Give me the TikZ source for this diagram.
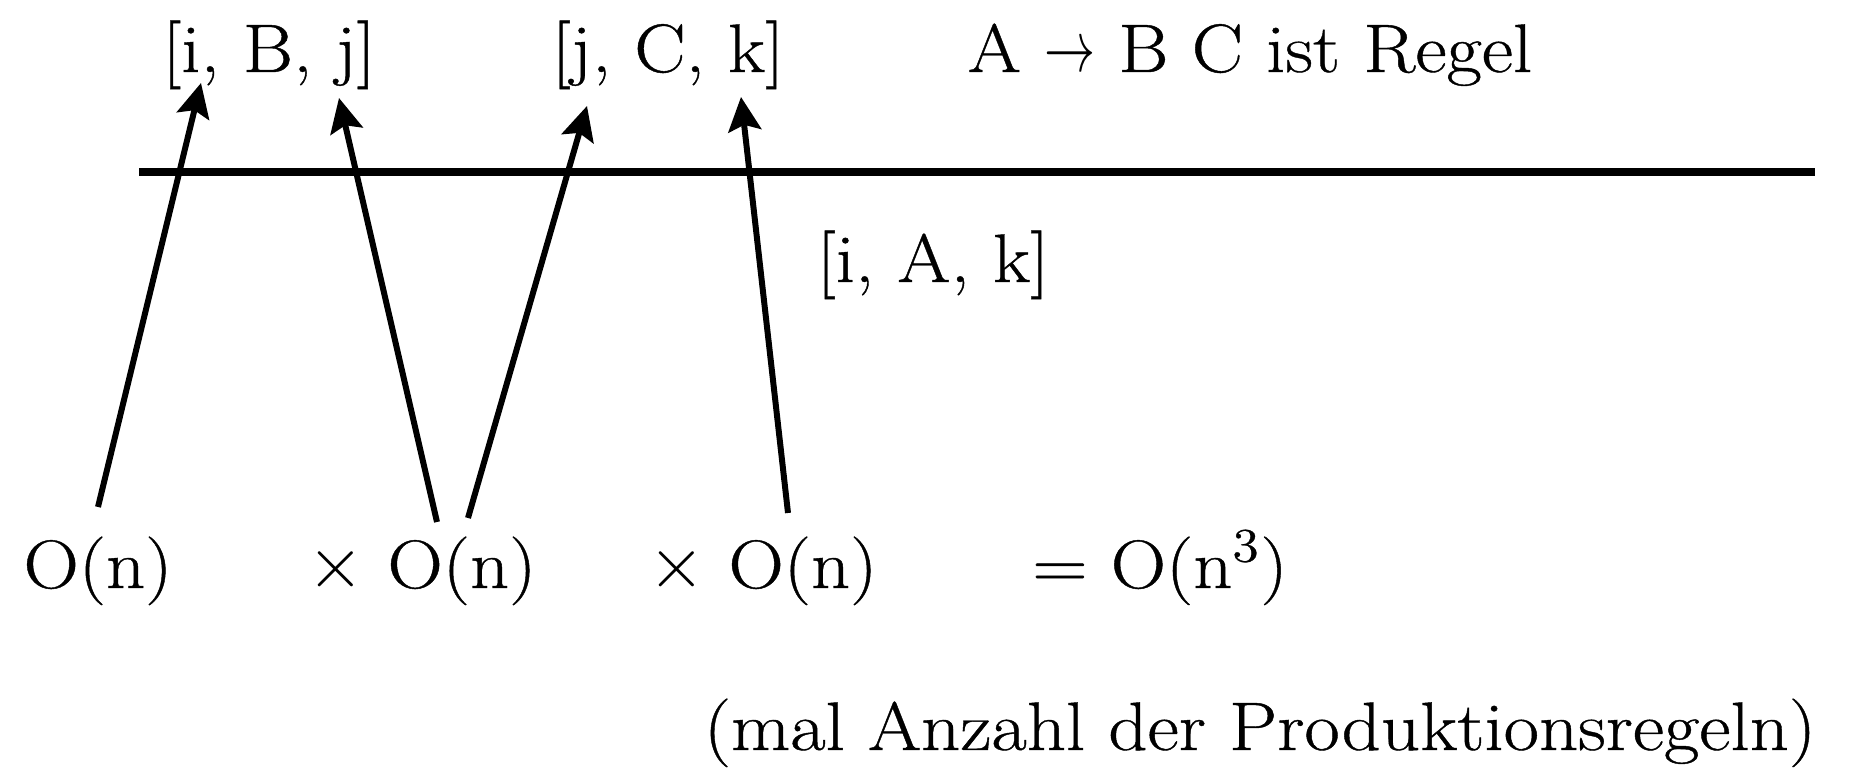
\documentclass[tikz,border=0pt]{standalone}
\usepackage{fontspec}
\setmainfont{Latin Modern Roman}[FakeStretch=1.12, FakeBold=0.6]
\usepackage{tikz}
\usetikzlibrary{arrows.meta}

\begin{document}
\begin{tikzpicture}[
    term/.style={inner sep=0pt, anchor=base, font=\fontsize{19.5}{23}\selectfont},
    arr/.style={-{Stealth[length=3.4mm, width=3.3mm, inset=0.6mm]}, line width=1.7pt},
    rule/.style={line width=2.2pt},
]
\useasboundingbox (0,0) rectangle (18.5,7.69);

% --- Items above the line ---
\node[term] (ibj) at (2.69,6.97) {[i, B, j]};
\node[term] (jck) at (6.68,6.97) {[j, C, k]};
\node[term] (regel) at (12.50,6.97) {A \scalebox{0.7}[1]{$\rightarrow$} B C ist Regel};

% --- Deduction line and result ---
\coordinate (linel) at (1.39,5.97);
\coordinate (liner) at (18.15,5.97);
\draw[rule] (linel) -- (liner);
\node[term] (iak) at (9.33,4.87) {[i, A, k]};

% --- Cost terms ---
\node[term] (oi) at (0.98,1.81) {O(n)};
\node[term] (oj) at (4.22,1.81) {$\times$ O(n)};
\node[term] (ok) at (7.63,1.81) {$\times$ O(n)};
\node[term] (total) at (11.60,1.81) {= O(n\textsuperscript{3})};
\node[term] (note) at (12.60,0.19) {(mal Anzahl der Produktionsregeln)};

% --- Arrow ends ---
\coordinate (ti) at (0.98,2.62);
\coordinate (tj1) at (4.37,2.47);
\coordinate (tj2) at (4.68,2.51);
\coordinate (tk) at (7.88,2.56);
\coordinate (hi) at (2.01,6.86);
\coordinate (hj1) at (3.39,6.71);
\coordinate (hj2) at (5.87,6.63);
\coordinate (hk) at (7.41,6.72);

% --- Arrows ---
\draw[arr] (ti) -- (hi);
\draw[arr] (tj1) -- (hj1);
\draw[arr] (tj2) -- (hj2);
\draw[arr] (tk) -- (hk);
\end{tikzpicture}
\end{document}
